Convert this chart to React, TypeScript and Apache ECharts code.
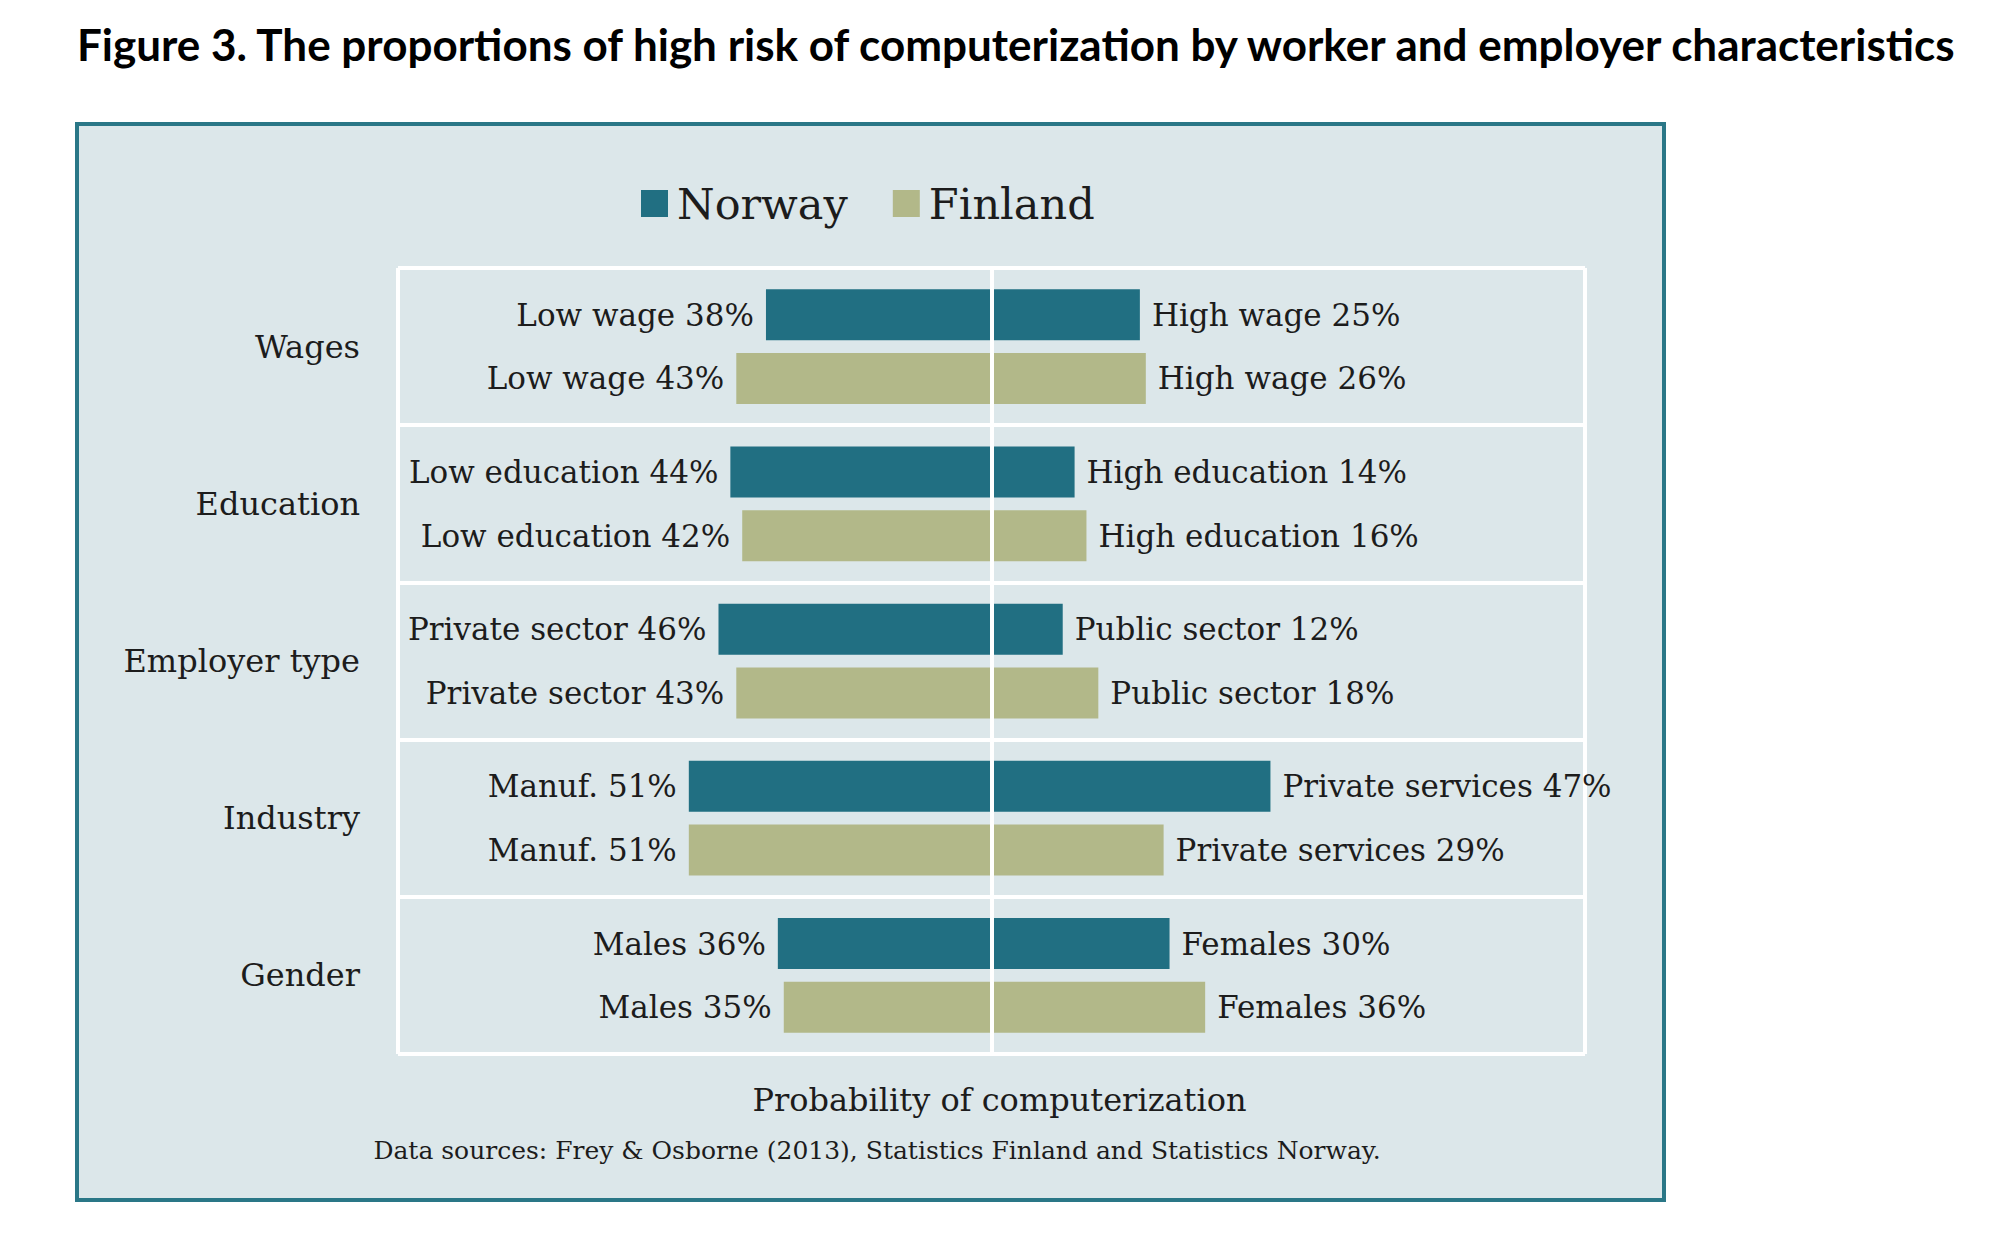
import React, { useEffect, useRef } from "react";
import * as echarts from "echarts";

const categories = ["Wages", "Education", "Employer type", "Industry", "Gender"];
const leftNames = ["Low wage", "Low education", "Private sector", "Manuf.", "Males"];
const rightNames = ["High wage", "High education", "Public sector", "Private services", "Females"];
const norwayLeft = [38, 44, 46, 51, 36];
const norwayRight = [25, 14, 12, 47, 30];
const finlandLeft = [43, 42, 43, 51, 35];
const finlandRight = [26, 16, 18, 29, 36];

const titleText = "Figure 3. The proportions of high risk of computerization by worker and employer characteristics";
const axisName = "Probability of computerization";
const sourceText = "Data sources: Frey & Osborne (2013), Statistics Finland and Statistics Norway.";

const NORWAY = "#216f82";
const FINLAND = "#b2b889";
const SERIF = "DejaVu Serif";
const TEXT = "#1c1c1c";

export default function App() {
  const ref = useRef<HTMLDivElement>(null);
  useEffect(() => {
    document.body.style.margin = "0";
    const chart = echarts.init(ref.current!, null, { renderer: "svg" });
    const labelStyle = {
      show: true,
      fontFamily: SERIF,
      fontSize: 31,
      color: TEXT,
      distance: 12,
    };
    const barCommon = {
      type: "bar" as const,
      barWidth: 51,
      barGap: "25%",
    };
    chart.setOption({
      animation: false,
      backgroundColor: "#ffffff",
      graphic: [
        {
          type: "rect",
          z: -10,
          shape: { x: 77, y: 124, width: 1587, height: 1076 },
          style: { fill: "#dce7ea", stroke: "#2a7787", lineWidth: 4 },
        },
        {
          type: "text",
          x: 77,
          y: 44,
          style: {
            text: titleText,
            fontFamily: "Lato",
            fontWeight: "bold",
            fontSize: 44,
            fill: "#000000",
            verticalAlign: "middle",
          },
        },
        {
          type: "text",
          x: 877,
          y: 1150,
          style: {
            text: sourceText,
            fontFamily: SERIF,
            fontSize: 25,
            fill: TEXT,
            align: "center",
            verticalAlign: "middle",
          },
        },
      ],
      legend: {
        data: ["Norway", "Finland"],
        left: 636,
        top: 177,
        icon: "rect",
        itemWidth: 27,
        itemHeight: 27,
        itemGap: 45,
        textStyle: { fontFamily: SERIF, fontSize: 43, color: TEXT, padding: [0, 0, 0, 4] },
      },
      grid: { left: 398, right: 423, top: 268, bottom: 185, containLabel: false },
      xAxis: {
        type: "value",
        min: -100,
        max: 100,
        interval: 100,
        axisLine: { show: false },
        axisTick: { show: false },
        axisLabel: { show: false },
        splitLine: { show: true, lineStyle: { color: "#ffffff", width: 4 } },
        name: axisName,
        nameLocation: "middle",
        nameGap: 30,
        nameTextStyle: { fontFamily: SERIF, fontSize: 32, color: TEXT, verticalAlign: "top", padding: [0, 0, 0, 16] },
      },
      yAxis: {
        type: "category",
        data: categories,
        inverse: true,
        axisLine: { show: false },
        axisTick: { show: false },
        axisLabel: { fontFamily: SERIF, fontSize: 32, color: TEXT, margin: 38 },
        splitLine: { show: true, lineStyle: { color: "#ffffff", width: 4 } },
      },
      series: [
        {
          ...barCommon,
          name: "Norway",
          stack: "norway",
          itemStyle: { color: NORWAY },
          data: norwayLeft.map((v) => -v),
          label: {
            ...labelStyle,
            position: "left",
            formatter: (p: any) => `${leftNames[p.dataIndex]} ${norwayLeft[p.dataIndex]}%`,
          },
        },
        {
          ...barCommon,
          name: "Norway",
          stack: "norway",
          itemStyle: { color: NORWAY },
          data: norwayRight,
          label: {
            ...labelStyle,
            position: "right",
            formatter: (p: any) => `${rightNames[p.dataIndex]} ${norwayRight[p.dataIndex]}%`,
          },
        },
        {
          ...barCommon,
          name: "Finland",
          stack: "finland",
          itemStyle: { color: FINLAND },
          data: finlandLeft.map((v) => -v),
          label: {
            ...labelStyle,
            position: "left",
            formatter: (p: any) => `${leftNames[p.dataIndex]} ${finlandLeft[p.dataIndex]}%`,
          },
        },
        {
          ...barCommon,
          name: "Finland",
          stack: "finland",
          itemStyle: { color: FINLAND },
          data: finlandRight,
          label: {
            ...labelStyle,
            position: "right",
            formatter: (p: any) => `${rightNames[p.dataIndex]} ${finlandRight[p.dataIndex]}%`,
          },
          markLine: {
            silent: true,
            symbol: "none",
            label: { show: false },
            lineStyle: { color: "#ffffff", width: 4, type: "solid" },
            data: [{ xAxis: 0 }],
          },
        },
      ],
    });
    return () => chart.dispose();
  }, []);
  return <div ref={ref} style={{ width: 2008, height: 1239 }} />;
}
